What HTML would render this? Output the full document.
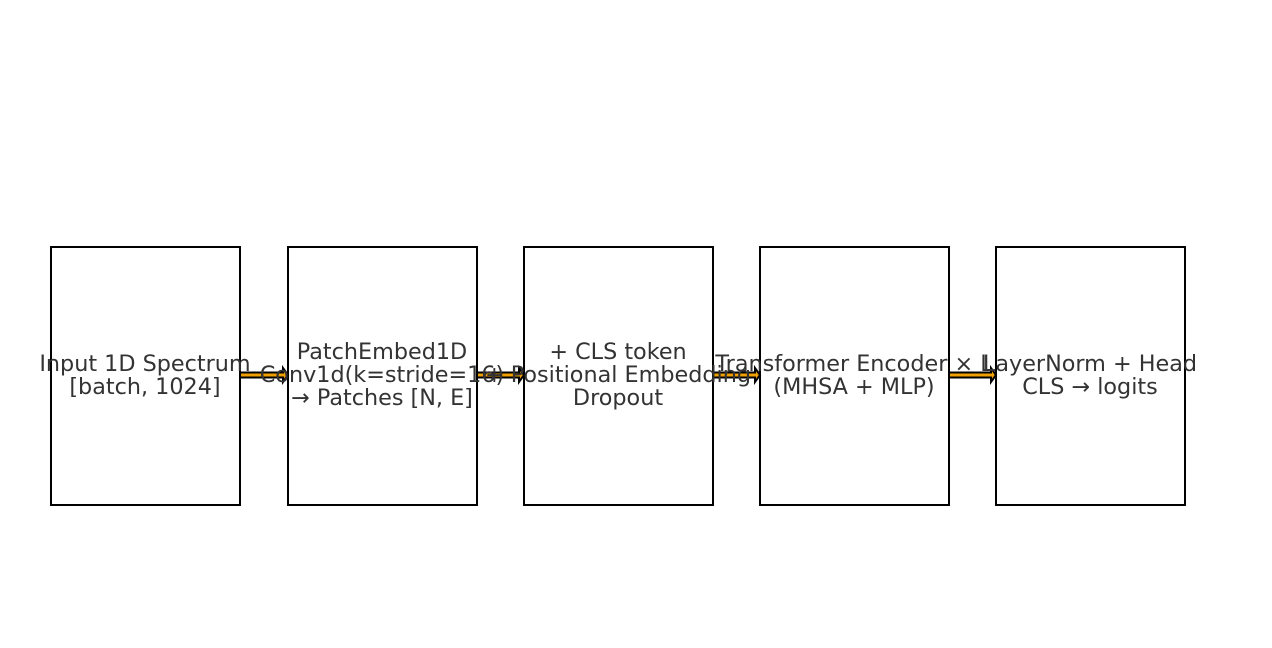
<!DOCTYPE html>
<html><head><style>
body{margin:0;width:1272px;height:648px;background:#fff;position:relative;overflow:hidden}
.b{position:absolute;top:246px;width:187px;height:256px;border:2px solid #000;background:#fff}
.t{position:absolute;width:300px;text-align:center;font:22.3px/23px "DejaVu Sans",sans-serif;color:#333;z-index:3}
svg{position:absolute;left:0;top:0;z-index:2}
</style></head><body>
<div class="b" style="left:50px"></div>
<div class="b" style="left:287px"></div>
<div class="b" style="left:523px"></div>
<div class="b" style="left:759px"></div>
<div class="b" style="left:995px"></div>
<svg width="1272" height="648">
<g fill="#f0a000" stroke="#000" stroke-width="2">
<path d="M240,372.5 H283 V368 L288,375 L283,382 V377.5 H240 Z"/>
<path d="M477,372.5 H519 V368 L524,375 L519,382 V377.5 H477 Z"/>
<path d="M713,372.5 H755 V368 L760,375 L755,382 V377.5 H713 Z"/>
<path d="M949,372.5 H991 V368 L996,375 L991,382 V377.5 H949 Z"/>
</g>
</svg>
<div class="t" style="left:-5px;top:353px">Input 1D Spectrum<br>[batch, 1024]</div>
<div class="t" style="left:232px;top:341px">PatchEmbed1D<br>Conv1d(k=stride=16)<br>→ Patches [N, E]</div>
<div class="t" style="left:468px;top:341px">+ CLS token<br>+ Positional Embedding<br>Dropout</div>
<div class="t" style="left:704px;top:353px">Transformer Encoder × L<br>(MHSA + MLP)</div>
<div class="t" style="left:940px;top:353px">LayerNorm + Head<br>CLS → logits</div>
</body></html>
